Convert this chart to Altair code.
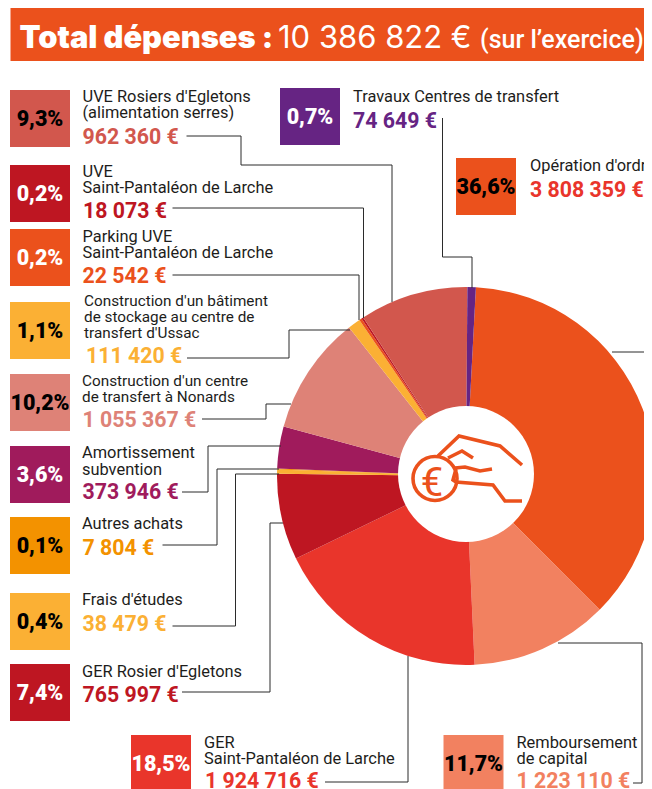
import altair as alt
import pandas as pd

# ---------- chart values ----------
CATEGORIES = ["Opération d'ordre", "Remboursement de capital", "GER Saint-Pantaléon de Larche",
              "GER Rosier d'Egletons", "Frais d'études", "Autres achats", "Amortissement subvention",
              "Centre de transfert à Nonards", "Bâtiment de stockage Ussac", "Parking UVE",
              "UVE Saint-Pantaléon", "UVE Rosiers d'Egletons", "Travaux Centres de transfert"]
AMOUNTS = [3808359, 1223110, 1924716, 765997, 38479, 7804, 373946, 1055367, 111420, 22542, 18073, 962360, 74649]
AMOUNT_TEXT = ["3 808 359 €", "1 223 110 €", "1 924 716 €", "765 997 €", "38 479 €", "7 804 €", "373 946 €",
               "1 055 367 €", "111 420 €", "22 542 €", "18 073 €", "962 360 €", "74 649 €"]
PCT_TEXT = ["36,6%", "11,7%", "18,5%", "7,4%", "0,4%", "0,1%", "3,6%", "10,2%", "1,1%", "0,2%", "0,2%", "9,3%", "0,7%"]
LABEL_LINES = [["Opération d'ordre"], ["Remboursement", "de capital"], ["GER", "Saint-Pantaléon de Larche"],
               ["GER Rosier d'Egletons"], ["Frais d'études"], ["Autres achats"], ["Amortissement", "subvention"],
               ["Construction d'un centre", "de transfert à Nonards"],
               ["Construction d'un bâtiment", "de stockage au centre de", "transfert d'Ussac"],
               ["Parking UVE", "Saint-Pantaléon de Larche"], ["UVE", "Saint-Pantaléon de Larche"],
               ["UVE Rosiers d'Egletons", "(alimentation serres)"], ["Travaux Centres de transfert"]]

# ---------- styles ----------
SLICE_COLORS = ["#EB511C", "#F28160", "#E9352B", "#BE1622", "#FBB034", "#F39200", "#A01B5C",
                "#DE8277", "#FBB034", "#EB511C", "#BE1622", "#D2574D", "#662483"]
AMOUNT_COLORS = ["#E9352B"] + SLICE_COLORS[1:]
PCT_COLORS = ["black", "black", "white", "white", "black", "black", "white", "black", "black", "white", "white", "black", "white"]
LABEL_SIZES = [16.4, 16.4, 16.4, 16.4, 16.4, 16.4, 16.4, 15.3, 15.3, 16.4, 16.4, 16.4, 16.4]
ORANGE = "#EB511C"
LEADER = "#2b2b2b"

# ---------- layout (page pixels) ----------
TILE_X = [456, 443.5, 131, 10, 10, 10, 10, 10, 10, 10, 10, 10, 280]
TILE_Y = [158, 735, 735, 664, 593, 517, 446, 374, 302, 229, 165, 90, 88]
LABEL_X = [530, 516.5, 204, 82, 82, 82, 82, 82, 84, 82.5, 82.5, 82.5, 353]
LABEL_BASE = [[171], [748, 764], [748, 764], [677], [605], [529], [458, 475], [386, 402], [306, 322, 338],
              [242, 258], [177, 193], [102, 118], [102]]
AMOUNT_X = [530, 516.5, 205, 82.5, 82.5, 82.5, 82.5, 82.5, 86, 82.5, 83, 82.5, 353]
AMOUNT_BASE = [197, 788, 788, 702, 631, 555, 499, 427, 363, 283, 218, 144, 127.5]
TILE_W, TILE_H = 60, 57
LEADERS = [
    [(612, 352), (652, 352)],
    [(633, 783), (642, 783), (642, 643), (558, 643)],
    [(325, 782), (408, 782), (408, 656)],
    [(182, 692), (270, 692), (270, 523), (283, 523)],
    [(172.5, 626), (235.5, 626), (235.5, 474), (279, 474)],
    [(162.5, 545), (217, 545), (217, 469), (279, 469)],
    [(182, 492), (208, 492), (208, 446), (281, 446)],
    [(202, 419), (266, 419), (266, 404), (291, 404)],
    [(187, 358), (289, 358), (289, 330), (350, 330)],
    [(172.5, 275), (359, 275), (359, 320)],
    [(172.5, 208), (363.5, 208), (363.5, 318)],
    [(186.5, 136), (241, 136), (241, 165), (392, 165), (392, 302)],
    [(442.5, 118), (442.5, 257), (472, 257), (472, 288)],
]
ICON = [
    [(438, 456), (459, 436), (500, 446), (522, 465)],
    [(448, 458), (462, 451), (473, 458)],
    [(455, 468), (465, 467), (480, 471), (492, 469)],
    [(456, 469), (453, 480), (456, 482), (493, 485), (505, 501), (522, 501)],
]
TITLE_PARTS = [("Total dépenses :", 19.5, "Inter", 30.8, 900), ("10 386 822 €", 278, "Inter", 31, 400),
               ("(sur l’exercice)", 480, "Roboto", 25, 500)]

OFF = 8
def X(f="x"): return alt.X(f"{f}:Q", scale=None, axis=None)
def Y(f="y"): return alt.Y(f"{f}:Q", scale=None, axis=None)

# band
band = alt.Chart(pd.DataFrame({"x": [10.5 - OFF], "x2": [660.0], "y": [7.0 - OFF], "y2": [61 - OFF]})).mark_rect(color=ORANGE).encode(
    x=X(), x2="x2:Q", y=Y(), y2="y2:Q")

title_layers = [
    alt.Chart(pd.DataFrame({"x": [x - OFF], "y": [48 - OFF], "t": [t]})).mark_text(
        font=f, fontSize=s, fontWeight=w, color="white", align="left", baseline="alphabetic").encode(x=X(), y=Y(), text="t:N")
    for t, x, f, s, w in TITLE_PARTS]

# tiles
tiles = pd.DataFrame({"x": [x - OFF for x in TILE_X], "x2": [x - OFF + TILE_W for x in TILE_X],
                      "y": [y - OFF for y in TILE_Y], "y2": [y - OFF + TILE_H for y in TILE_Y],
                      "c": SLICE_COLORS, "t": PCT_TEXT, "tc": PCT_COLORS})
tiles["cx"] = (tiles.x + tiles.x2) / 2
tiles["by"] = tiles.y + 36
tile_rects = alt.Chart(tiles).mark_rect().encode(x=X(), x2="x2:Q", y=Y(), y2="y2:Q", color=alt.Color("c:N", scale=None))
tile_text = alt.Chart(tiles).mark_text(font="Roboto", fontSize=21.5, fontWeight=900, align="center",
                                       baseline="alphabetic").encode(
    x=X("cx"), y=Y("by"), text="t:N", color=alt.Color("tc:N", scale=None))

# labels
rows = []
for lines, x, bases, sz in zip(LABEL_LINES, LABEL_X, LABEL_BASE, LABEL_SIZES):
    for l, b in zip(lines, bases):
        rows.append({"x": x - OFF, "y": b - OFF, "t": l, "s": sz})
labels = alt.Chart(pd.DataFrame(rows)).mark_text(font="Roboto", color="#1d1d1b", align="left",
                                                 baseline="alphabetic").encode(
    x=X(), y=Y(), text="t:N", size=alt.Size("s:Q", scale=None))
amounts = alt.Chart(pd.DataFrame({"x": [x - OFF for x in AMOUNT_X], "y": [y - OFF for y in AMOUNT_BASE],
                                  "t": AMOUNT_TEXT, "c": AMOUNT_COLORS})).mark_text(
    font="Roboto", fontSize=21.3, fontWeight="bold", align="left", baseline="alphabetic").encode(
    x=X(), y=Y(), text="t:N", color=alt.Color("c:N", scale=None))

# pie
pie_df = pd.DataFrame({"cat": CATEGORIES, "v": AMOUNTS, "i": range(len(AMOUNTS))})
START = 0.0524
TAU = 6.283185307
pie = alt.Chart(pie_df).mark_arc(outerRadius=189, innerRadius=0).encode(
    theta=alt.Theta("v:Q", stack=True, scale=alt.Scale(range=[START, START + TAU])),
    color=alt.Color("cat:N", scale=alt.Scale(domain=CATEGORIES, range=SLICE_COLORS), legend=None),
    order=alt.Order("i:Q"),
    x=alt.value(466 - OFF), y=alt.value(476 - OFF))
hub = alt.Chart(pd.DataFrame({"x": [466 - OFF], "y": [474 - OFF]})).mark_circle(size=136 * 136, color="white", opacity=1).encode(x=X(), y=Y())


def polylines(paths):
    rows = []
    for g, p in enumerate(paths):
        for i, (x, y) in enumerate(p):
            rows.append({"g": g, "i": i, "x": x - OFF, "y": y - OFF})
    return pd.DataFrame(rows)

leaders = alt.Chart(polylines(LEADERS)).mark_line(color=LEADER, strokeWidth=1).encode(
    x=X(), y=Y(), detail="g:N", order="i:Q")
icon = alt.Chart(polylines(ICON)).mark_line(color=ORANGE, strokeWidth=3.6).encode(
    x=X(), y=Y(), detail="g:N", order="i:Q")
coin = alt.Chart(pd.DataFrame({"x": [435 - OFF], "y": [478.5 - OFF]})).mark_circle(
    size=44 * 44, fillOpacity=0, stroke=ORANGE, strokeWidth=3.6, opacity=1).encode(x=X(), y=Y())
euro = alt.Chart(pd.DataFrame({"x": [432 - OFF], "y": [496 - OFF], "t": ["€"]})).mark_text(
    font="Roboto", fontSize=40, fontWeight=400, color=ORANGE, align="center", baseline="alphabetic").encode(x=X(), y=Y(), text="t:N")

chart = alt.layer(band, *title_layers, pie, hub, leaders, tile_rects, tile_text, labels, amounts, icon, coin, euro).properties(
    width=636, height=781, padding=0, autosize="none"
).resolve_scale(color="independent", theta="independent").configure_view(stroke=None)

chart.save("out.html", embed_options={"renderer": "svg", "actions": False})
